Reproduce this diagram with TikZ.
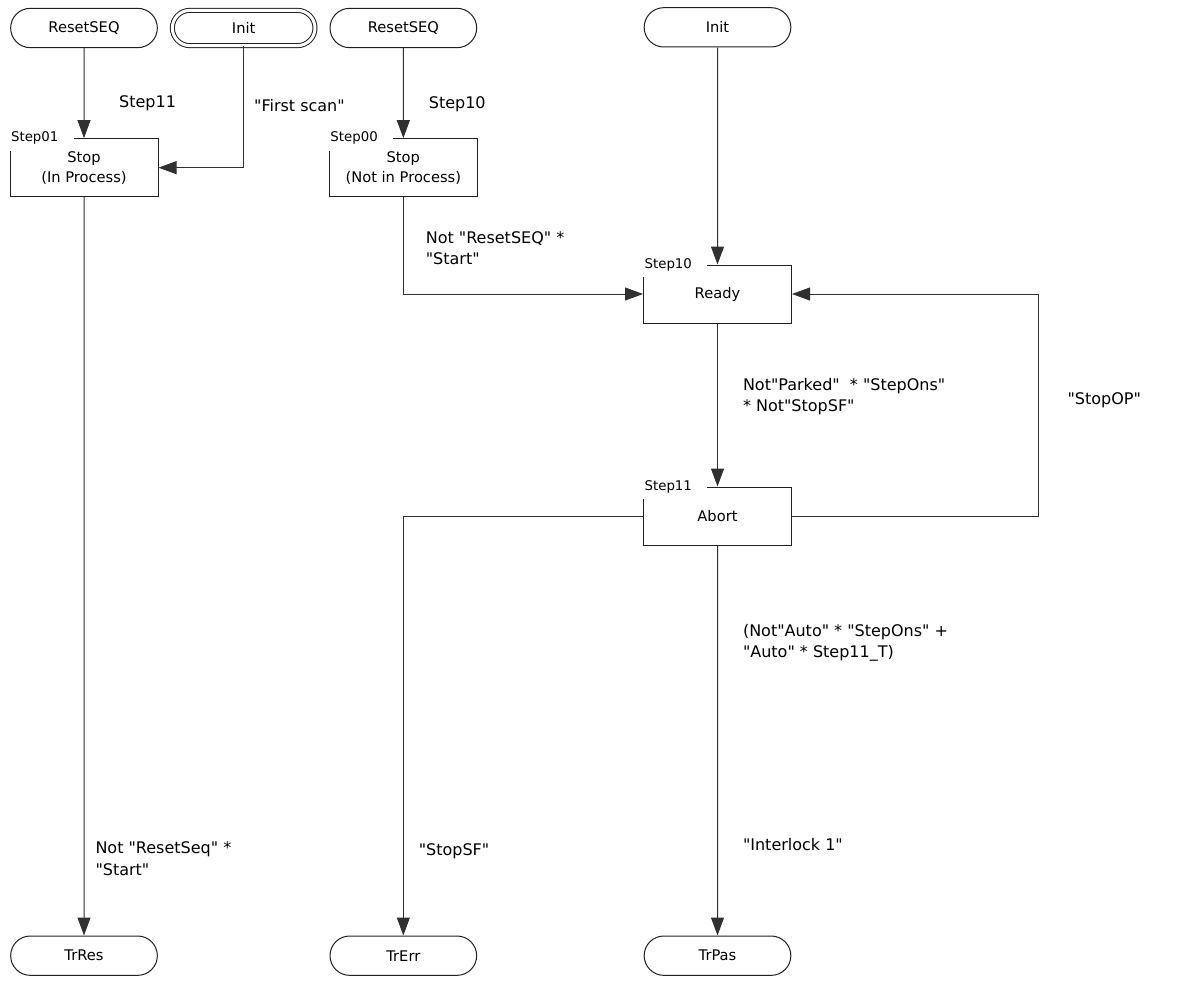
\documentclass[tikz,border=0pt]{standalone}
\usepackage{fontspec}
\setmainfont{DejaVu Sans}[Ligatures=TeXOff]
\usetikzlibrary{shapes.misc, arrows.meta, positioning}
\definecolor{linegray}{HTML}{303030}
\definecolor{boxblack}{HTML}{202020}
\tikzset{
  term/.style={
    rounded rectangle, draw=boxblack, line width=0.75pt,
    minimum width=110pt, minimum height=29.5pt, inner sep=0pt,
    font=\fontsize{11}{13}\selectfont
  },
  initterm/.style={
    term, double=white, double distance=2.25pt,
    minimum width=107pt, minimum height=26.5pt
  },
  stepbox/.style={
    rectangle, draw=boxblack, line width=0.75pt,
    minimum width=111pt, minimum height=43.5pt, align=center,
    font=\fontsize{11}{15}\selectfont,
    label={[steptag]north west:#1}
  },
  steptag/.style={
    anchor=west, fill=white, inner xsep=1pt, inner ysep=0pt,
    minimum height=18.75pt, text width=46pt, align=left,
    font=\fontsize{10}{12}\selectfont
  },
  arrow/.style={-{Triangle[length=13.5pt, width=9.75pt]}, line width=0.75pt, linegray},
  cond/.style={
    inner sep=0pt, align=left, anchor=west, text=black,
    font=\fontsize{12}{16}\selectfont
  }
}
\begin{document}
\begin{tikzpicture}[x=0.75pt, y=-0.75pt]
    \useasboundingbox (0,0) rectangle (1198,981);

    % Obere Reihe
    \node[term] (reset1) at (84,28) {ResetSEQ};
    \node[initterm, right=10.5pt of reset1] (init1) {Init};
    \node[term, right=10.5pt of init1] (reset2) {ResetSEQ};

    % Stop-Schritte
    \node[stepbox=Step01, below=67.5pt of reset1] (step01)
      {Stop\\(In Process)};
    \node[stepbox=Step00, below=67.5pt of reset2] (step00)
      {Stop\\(Not in Process)};

    % Ready / Abort
    \node[stepbox=Step10] (ready) at (717.5,294) {Ready};
    \node[term, above=162.75pt of ready] (init2) {Init};
    \node[stepbox=Step11, below=122.25pt of ready] (abort) {Abort};

    % Ausgaenge
    \node[term, below=292.5pt of abort] (trpas) {TrPas};
    \node[term] (trres) at (reset1 |- trpas) {TrRes};
    \node[term] (trerr) at (reset2 |- trpas) {TrErr};

    % Transitionen
    \draw[arrow] (reset1) -- node[cond, pos=0.61, right=26pt] {Step11} (step01);
    \draw[arrow] (init1) |- node[cond, pos=0.244, right=7.5pt] {"First scan"} (step01);
    \draw[arrow] (reset2) -- node[cond, pos=0.62, right=18.75pt] {Step10} (step00);
    \draw[arrow] (step00) |- node[cond, pos=0.263, right=16.5pt]
      {Not "ResetSEQ" *\\"Start"} (ready);
    \draw[arrow] (init2) -- (ready);
    \draw[arrow] (ready) -- node[cond, pos=0.45, right=18.75pt]
      {Not"Parked"~~* "StepOns"\\* Not"StopSF"} (abort);
    \draw[arrow] (abort.east) -- ++(246,0)
      |- node[cond, pos=0.26, right=21.75pt] {"StopOP"} (ready.east);
    \draw[arrow] (abort) -| node[cond, pos=0.9, right=11.25pt] {"StopSF"} (trerr);
    \draw[arrow] (abort) --
      node[cond, pos=0.25, right=18.75pt] {(Not"Auto" * "StepOns" +\\"Auto" * Step11\_T)}
      node[cond, pos=0.767, right=18.75pt] {"Interlock 1"} (trpas);
    \draw[arrow] (step01) -- node[cond, pos=0.896, right=8.25pt]
      {Not "ResetSeq" *\\"Start"} (trres);
  \end{tikzpicture}
\end{document}
